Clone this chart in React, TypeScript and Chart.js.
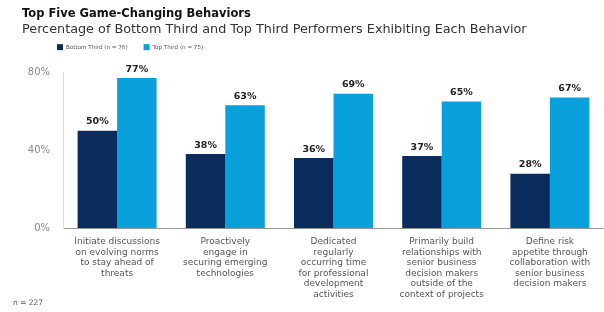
import React, { useEffect, useRef } from "react";
import { Chart, registerables } from "chart.js";

Chart.register(...registerables);

const titleText = "Top Five Game-Changing Behaviors";
const subtitleText = "Percentage of Bottom Third and Top Third Performers Exhibiting Each Behavior";
const footnoteText = "n = 227";

const categories: string[][] = [
  ["Initiate discussions", "on evolving norms", "to stay ahead of", "threats"],
  ["Proactively", "engage in", "securing emerging", "technologies"],
  ["Dedicated", "regularly", "occurring time", "for professional", "development", "activities"],
  ["Primarily build", "relationships with", "senior business", "decision makers", "outside of the", "context of projects"],
  ["Define risk", "appetite through", "collaboration with", "senior business", "decision makers"],
];

const seriesNames = ["Bottom Third (n = 76)", "Top Third (n = 75)"];
const bottomThird = [50, 38, 36, 37, 28];
const topThird = [77, 63, 69, 65, 67];
const seriesColors = ["#0b2d5e", "#0aa0dc"];

const yMin = 0;
const yMax = 80;
const yStep = 40;

const FONT = "'DejaVu Sans', sans-serif";

const valueLabelPlugin = {
  id: "valueLabels",
  afterDatasetsDraw(chart: any) {
    const ctx = chart.ctx;
    ctx.save();
    ctx.font = `bold 9.5px ${FONT}`;
    ctx.fillStyle = "#222";
    ctx.textAlign = "center";
    ctx.textBaseline = "bottom";
    chart.data.datasets.forEach((ds: any, di: number) => {
      const meta = chart.getDatasetMeta(di);
      meta.data.forEach((el: any, i: number) => {
        ctx.fillText(`${ds.data[i]}%`, el.x, el.y - 4);
      });
    });
    ctx.restore();
  },
};

const legendPlugin = {
  id: "customLegend",
  afterDraw(chart: any) {
    const ctx = chart.ctx;
    const area = chart.chartArea;
    ctx.save();
    ctx.font = `5.6px ${FONT}`;
    ctx.textBaseline = "middle";
    ctx.textAlign = "left";
    let x = area.left - 6;
    const y = area.top - 25;
    chart.data.datasets.forEach((ds: any) => {
      ctx.fillStyle = ds.backgroundColor;
      ctx.fillRect(x, y - 3, 6, 6);
      ctx.fillStyle = "#555";
      ctx.fillText(ds.label, x + 9, y);
      x += 9 + ctx.measureText(ds.label).width + 16;
    });
    ctx.restore();
  },
};

const footnotePlugin = {
  id: "footnote",
  afterDraw(chart: any) {
    const ctx = chart.ctx;
    ctx.save();
    ctx.font = `7.5px ${FONT}`;
    ctx.fillStyle = "#555";
    ctx.textAlign = "left";
    ctx.textBaseline = "middle";
    ctx.fillText(footnoteText, 13, chart.height - 9);
    ctx.restore();
  },
};

export default function App() {
  const canvasRef = useRef<HTMLCanvasElement | null>(null);

  useEffect(() => {
    if (!canvasRef.current) return;
    const chart = new Chart(canvasRef.current, {
      type: "bar",
      data: {
        labels: categories,
        datasets: [
          { label: seriesNames[0], data: bottomThird, backgroundColor: seriesColors[0] },
          { label: seriesNames[1], data: topThird, backgroundColor: seriesColors[1] },
        ],
      },
      options: {
        responsive: false,
        animation: false,
        layout: { padding: { left: 22, right: 0, top: 0, bottom: 4 } },
        datasets: {
          bar: { categoryPercentage: 0.73, barPercentage: 1.0, borderWidth: 0 },
        },
        plugins: {
          legend: { display: false },
          tooltip: { enabled: false },
          title: {
            display: true,
            text: titleText,
            align: "start",
            color: "#111",
            font: { family: FONT, size: 11.5, weight: "bold" },
            padding: { top: 7, bottom: 1 },
          },
          subtitle: {
            display: true,
            text: subtitleText,
            align: "start",
            color: "#333",
            font: { family: FONT, size: 12.8 },
            padding: { top: 0, bottom: 35 },
          },
        },
        scales: {
          x: {
            grid: { display: false, drawTicks: false, tickLength: 0 },
            border: { display: true, color: "#999", width: 1 },
            ticks: {
              color: "#555",
              font: { family: FONT, size: 9, lineHeight: 1.18 },
              padding: 8,
              maxRotation: 0,
              minRotation: 0,
              autoSkip: false,
            },
          },
          y: {
            min: yMin,
            max: yMax,
            afterFit(scale: any) {
              scale.width = 41;
            },
            grid: { display: false, drawTicks: false, tickLength: 0 },
            border: { display: true, color: "#ddd", width: 1 },
            ticks: {
              stepSize: yStep,
              color: "#888",
              padding: 13,
              font: { family: FONT, size: 10 },
              callback: (v: any) => `${v}%`,
            },
          },
        },
      },
      plugins: [valueLabelPlugin, legendPlugin, footnotePlugin],
    });
    return () => chart.destroy();
  }, []);

  return (
    <div style={{ position: "absolute", left: 0, top: 0, width: 604, height: 312, background: "#fff" }}>
      <canvas ref={canvasRef} width={604} height={312} />
    </div>
  );
}
